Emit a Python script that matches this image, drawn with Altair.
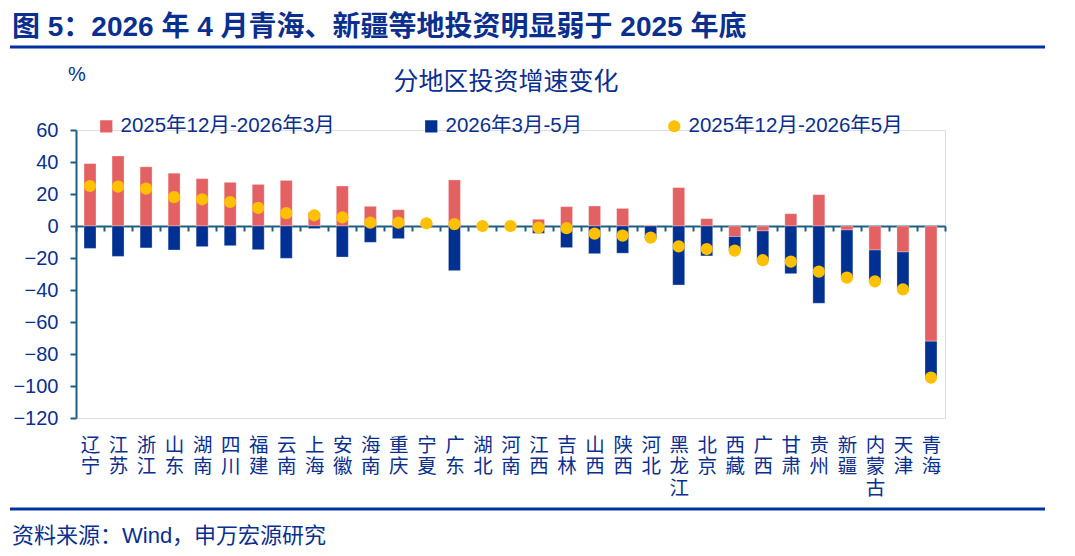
import altair as alt
import pandas as pd

provinces = ["辽宁", "江苏", "浙江", "山东", "湖南", "四川", "福建", "云南", "上海", "安徽",
             "海南", "重庆", "宁夏", "广东", "湖北", "河南", "江西", "吉林", "山西", "陕西",
             "河北", "黑龙江", "北京", "西藏", "广西", "甘肃", "贵州", "新疆", "内蒙古", "天津", "青海"]
s1_name = "2025年12月-2026年3月"
s2_name = "2026年3月-5月"
s3_name = "2025年12月-2026年5月"
s1 = [39, 43.8, 37, 33, 29.6, 27.3, 26, 28.5, 8.3, 25,
      12.3, 10.2, 1.7, 28.8, 0.2, 0.2, 4.2, 12.1, 12.5, 11,
      0.5, 24, 4.6, -6.6, -3.1, 7.7, 19.6, -2.5, -15, -16.2, -72]
s2 = [-14, -19, -13.7, -15, -12.9, -12.3, -14.8, -20.2, -1.6, -19.4,
      -10.2, -7.9, 0, -27.9, -0.2, -0.2, -4.6, -13.5, -17.3, -17,
      -7.8, -36.9, -18.7, -8.8, -18.3, -29.8, -48.3, -29.8, -19.6, -23.4, -23]
s3 = [25, 24.6, 23.4, 18, 16.7, 15, 11.3, 8, 6.7, 5.4,
      2.1, 2.1, 1.7, 1.2, 0, 0, -1, -1.4, -4.8, -6,
      -7.3, -12.7, -14.4, -15.4, -21.4, -22.3, -28.5, -32.3, -34.6, -39.6, -94.8]

y_ticks = [-120, -100, -80, -60, -40, -20, 0, 20, 40, 60]

title_text = "图 5：2026 年 4 月青海、新疆等地投资明显弱于 2025 年底"
subtitle_text = "分地区投资增速变化"
unit_text = "%"
source_text = "资料来源：Wind，申万宏源研究"

FONT = "'Liberation Sans', 'Noto Sans CJK SC', sans-serif"
NAVY = "#0A2F8F"
AXIS = "#1F5E80"
RED = "#E46163"
BLUE = "#003192"
YELLOW = "#FFC000"

W, H = 869, 288

bars_df = pd.DataFrame(
    [{"province": p, "series": s1_name, "value": v, "ord": 1} for p, v in zip(provinces, s1)]
    + [{"province": p, "series": s2_name, "value": v, "ord": 2} for p, v in zip(provinces, s2)]
)
dots_df = pd.DataFrame({"province": provinces, "value": s3, "series": [s3_name] * len(provinces)})

x_axis = alt.Axis(
    orient="bottom", offset=-H * 120 / 180, domainColor=AXIS, domainWidth=2,
    tickColor=AXIS, tickWidth=2, tickSize=5, tickBand="extent",
    labelAngle=0, labelExpr="split(datum.label, '')", labelFont=FONT,
    labelFontSize=19.5, labelLineHeight=21.5, labelColor=NAVY,
    labelPadding=205, labelBaseline="top", labelOverlap=False,
)
y_axis = alt.Axis(values=y_ticks, domainColor=AXIS, domainWidth=2, tickColor=AXIS,
                  tickWidth=2, tickSize=6, labelFont=FONT, labelFontSize=20,
                  labelColor=NAVY, labelPadding=12, grid=False, labelOverlap=False,
                  labelFlush=False)
x_scale = alt.Scale(paddingInner=0, paddingOuter=0)
y_scale = alt.Scale(domain=[-120, 60], nice=False)

legend_common = dict(title=None, orient="none", direction="horizontal", legendY=-14,
                     symbolSize=150, symbolStrokeWidth=0, labelFont=FONT, labelFontSize=20.5,
                     labelColor=NAVY, labelOffset=4, labelLimit=600)

bars = alt.Chart(bars_df).mark_bar(size=12, stroke="white", strokeWidth=0.5, strokeOpacity=0.6).encode(
    x=alt.X("province:N", sort=provinces, title=None, scale=x_scale, axis=x_axis),
    y=alt.Y("sum(value):Q", scale=y_scale, title=None, axis=y_axis),
    color=alt.Color("series:N", sort=[s1_name, s2_name],
                    scale=alt.Scale(domain=[s1_name, s2_name], range=[RED, BLUE]),
                    legend=alt.Legend(legendX=20, symbolType="square", columnPadding=86,
                                      **legend_common)),
    order=alt.Order("ord:Q"),
)

dots = alt.Chart(dots_df).mark_circle(size=150, opacity=1).encode(
    x=alt.X("province:N", sort=provinces, title=None, scale=x_scale, axis=x_axis),
    y=alt.Y("value:Q", scale=y_scale, title=None, axis=y_axis),
    color=alt.Color("series:N", scale=alt.Scale(domain=[s3_name], range=[YELLOW]),
                    legend=alt.Legend(legendX=588, symbolType="circle", **legend_common)),
)

text_df = pd.DataFrame({"t": [0]})

def txt(text, x, y, size, bold=False, align="left"):
    return alt.Chart(text_df).mark_text(
        text=text, font=FONT, fontSize=size, fontWeight="bold" if bold else "normal",
        color=NAVY, align=align, baseline="middle",
    ).encode(x=alt.value(x), y=alt.value(y))

def line(y):
    return alt.Chart(text_df).mark_rule(color="#0033A0", strokeWidth=3).encode(
        x=alt.value(-66), x2=alt.value(969), y=alt.value(y))

chart = alt.layer(
    bars, dots,
    txt(title_text, -64, -102, 28, bold=True),
    line(-83),
    txt(subtitle_text, 430, -48, 25, align="center"),
    txt(unit_text, 1, -55, 20, align="center"),
    line(379),
    txt(source_text, -64, 406, 22),
).resolve_scale(color="independent").properties(
    width=W, height=H,
    autosize=alt.AutoSizeParams(type="none"),
    padding={"left": 76, "top": 130, "right": 1075 - 76 - W, "bottom": 556 - 130 - H},
).configure_view(strokeWidth=0).configure(background="white")

chart.save("out.html", embed_options={"renderer": "svg", "actions": False})
